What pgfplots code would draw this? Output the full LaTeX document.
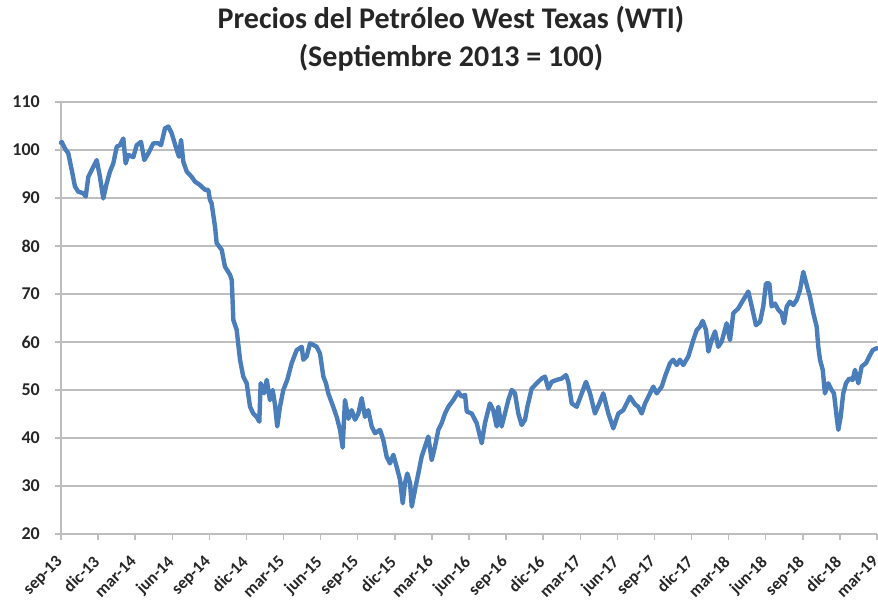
\documentclass[border=0pt]{standalone}
\usepackage{fontspec}
\setmainfont{Carlito}
\usepackage{pgfplots}
\pgfplotsset{compat=1.18}
\definecolor{wtiblue}{RGB}{74,126,187}
\definecolor{gridgray}{RGB}{190,190,190}
\begin{document}
\begin{tikzpicture}
\begin{axis}[
  scale only axis,
  width=816pt, height=432pt,
  at={(0,0)}, anchor=south west,
  xmin=0, xmax=66, ymin=20, ymax=110,
  xtick={0,3,...,66},
  xticklabels={sep-13,dic-13,mar-14,jun-14,sep-14,dic-14,mar-15,jun-15,sep-15,dic-15,mar-16,jun-16,sep-16,dic-16,mar-17,jun-17,sep-17,dic-17,mar-18,jun-18,sep-18,dic-18,mar-19},
  ytick={20,30,...,110},
  ymajorgrids,
  major grid style={draw=gridgray, line width=1.6pt},
  axis lines*=left,
  axis line style={draw=gridgray, line width=1.6pt},
  tick align=outside,
  major tick length=6pt,
  tick style={draw=gridgray, line width=1.4pt},
  ticklabel style={font=\fontsize{18}{20}\selectfont\bfseries, text=black!85},
  /pgf/number format/assume math mode=true,
  xticklabel style={font=\fontsize{17}{19}\selectfont\bfseries, xshift=-6pt, yshift=-13pt, rotate=45, anchor=north east, inner sep=1pt},
  yticklabel style={anchor=east, inner sep=1pt, xshift=-14pt},
  clip=false,
]
\addplot[color=wtiblue, line width=4.4pt, line join=round, line cap=round] coordinates {
(0,101.5)(0.06,101.7)(0.32,100.3)(0.59,99.3)(0.87,95.8)(1.13,92.4)(1.40,91.3)(1.80,91.0)(2.00,90.3)
(2.21,94.4)(2.48,95.8)(2.89,97.9)(3.15,94.4)(3.42,89.9)(3.70,93.1)(3.96,95.5)(4.23,97.2)(4.51,100.7)
(4.77,101.0)(5.04,102.4)(5.23,97.2)(5.44,99.0)(5.85,98.5)(6.12,101.0)(6.47,101.7)(6.74,97.9)(7.06,99.3)
(7.47,101.4)(7.87,101.4)(8.09,101.0)(8.41,104.5)(8.68,104.9)(8.95,103.5)(9.28,100.7)(9.54,98.6)(9.71,102.1)
(9.89,97.6)(10.17,95.5)(10.57,94.4)(10.84,93.4)(11.24,92.7)(11.65,91.7)(11.91,91.7)(12.05,89.6)(12.18,88.9)
(12.46,84.0)(12.59,80.6)(13.00,79.2)(13.26,75.7)(13.67,74.0)(13.81,72.9)(13.94,64.6)(14.21,62.5)(14.48,56.3)
(14.74,52.8)(15.02,51.4)(15.29,46.5)(15.55,45.1)(15.83,44.4)(16.04,43.4)(16.15,51.4)(16.42,49.3)(16.64,52.1)
(16.90,47.9)(17.12,50.0)(17.31,46.9)(17.49,42.4)(17.71,46.5)(17.98,50.0)(18.30,52.1)(18.66,55.6)(19.06,58.3)
(19.47,59.0)(19.60,56.3)(19.87,57.0)(20.14,59.7)(20.41,59.4)(20.68,59.0)(20.95,57.6)(21.22,52.8)(21.43,51.4)
(21.62,49.3)(22.02,46.5)(22.30,44.4)(22.57,41.7)(22.78,38.0)(22.97,47.9)(23.24,44.0)(23.51,45.8)(23.78,43.8)
(24.05,45.1)(24.32,48.3)(24.59,44.4)(24.85,45.8)(25.13,42.4)(25.40,41.0)(25.80,41.7)(26.07,39.6)(26.34,36.1)
(26.61,34.7)(26.88,36.5)(27.15,34.0)(27.42,31.3)(27.64,26.4)(27.82,30.6)(28.01,32.6)(28.23,30.6)(28.37,25.7)
(28.63,29.2)(28.90,32.6)(29.17,36.1)(29.44,38.2)(29.71,40.3)(29.98,35.4)(30.25,38.2)(30.52,41.7)(30.79,43.1)
(31.06,45.1)(31.33,46.5)(31.73,47.9)(32.13,49.6)(32.41,48.6)(32.68,49.0)(32.82,45.5)(33.22,45.1)(33.62,43.1)
(34.03,38.9)(34.29,43.1)(34.69,47.2)(34.96,45.8)(35.24,42.4)(35.37,46.5)(35.64,42.4)(35.91,45.1)(36.18,47.9)
(36.45,50.0)(36.72,49.3)(36.99,45.1)(37.26,42.7)(37.53,43.8)(37.72,46.5)(38.07,50.3)(38.48,51.4)(38.88,52.4)
(39.15,52.8)(39.41,50.3)(39.69,51.7)(40.09,52.1)(40.50,52.4)(40.85,53.1)(41.03,51.7)(41.31,47.2)(41.71,46.5)
(42.12,49.3)(42.46,51.7)(42.79,49.3)(43.19,45.1)(43.54,47.2)(43.86,49.3)(44.27,45.1)(44.67,42.0)(45.08,45.1)
(45.48,45.8)(45.75,47.2)(46.02,48.6)(46.43,47.0)(46.69,46.5)(46.97,45.1)(47.24,47.2)(47.64,49.3)(47.91,50.7)
(48.18,49.3)(48.59,50.7)(48.85,52.8)(49.26,55.6)(49.52,56.3)(49.80,55.2)(50.06,56.3)(50.33,55.2)(50.74,57.0)
(51.14,60.4)(51.42,62.5)(51.68,63.2)(51.90,64.4)(52.17,62.5)(52.36,58.0)(52.63,60.4)(52.90,62.2)(53.16,59.0)
(53.44,60.1)(53.84,63.9)(54.11,60.4)(54.38,66.0)(54.78,67.0)(55.19,68.8)(55.59,70.5)(55.87,67.4)(56.21,63.5)
(56.54,64.2)(56.80,67.4)(57.02,72.2)(57.29,72.2)(57.48,67.4)(57.75,68.0)(58.02,66.7)(58.29,66.0)(58.48,63.9)
(58.70,67.4)(58.96,68.4)(59.23,67.7)(59.51,68.8)(59.77,70.8)(60.04,74.6)(60.31,71.9)(60.58,69.4)(60.85,66.0)
(61.12,63.2)(61.25,59.0)(61.39,56.3)(61.61,54.2)(61.79,49.3)(62.06,51.4)(62.33,50.0)(62.52,49.3)(62.74,44.4)
(62.87,41.7)(63.06,44.4)(63.27,49.3)(63.49,51.4)(63.76,52.4)(64.03,52.1)(64.22,54.2)(64.49,51.4)(64.76,54.9)
(65.11,55.6)(65.38,57.0)(65.65,58.3)(65.97,58.7)
};
\end{axis}
\node[align=center, font=\fontsize{30}{38}\selectfont\bfseries, text=black!85] at (390pt,495pt)
  {Precios del Petróleo West Texas (WTI)\\(Septiembre 2013 = 100)};
\pgfresetboundingbox
\path (-61pt,-67pt) rectangle (817pt,534pt);
\end{tikzpicture}
\end{document}
